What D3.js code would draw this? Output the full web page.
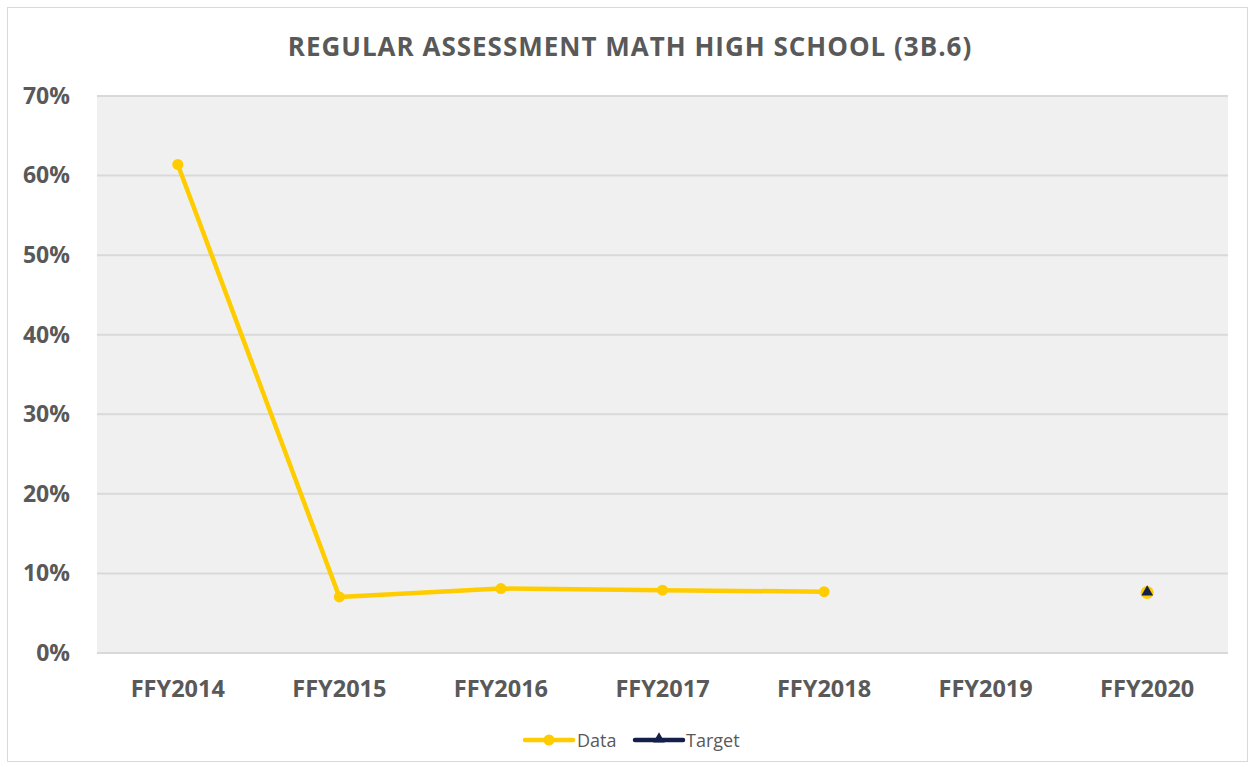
<!DOCTYPE html>
<html>
<head>
<meta charset="utf-8">
<script src="https://cdn.jsdelivr.net/npm/d3@7"></script>
<style>
  body { margin: 0; background: #fff; }
  text { font-family: "Open Sans", "Noto Sans", sans-serif; }
</style>
</head>
<body>
<script>
// chart data
const categories = ["FFY2014", "FFY2015", "FFY2016", "FFY2017", "FFY2018", "FFY2019", "FFY2020"];
const data_values = [0.614, 0.0705, 0.081, 0.079, 0.077, null, null];
const target_values = [null, null, null, null, null, null, 0.076];
const y_ticks = [0, 0.1, 0.2, 0.3, 0.4, 0.5, 0.6, 0.7];
const title = "REGULAR ASSESSMENT MATH HIGH SCHOOL (3B.6)";

const width = 1251, height = 767;
const plot_left = 97, plot_right = 1228, plot_top = 96, plot_bottom = 653;
const yellow = "#FFCC00", navy = "#14204A", grey = "#595959";

const svg = d3.select("body").append("svg")
    .attr("width", width)
    .attr("height", height);

// outer chart border
svg.append("rect")
    .attr("x", 7.5).attr("y", 7.5)
    .attr("width", 1240).attr("height", 754)
    .attr("fill", "#fff")
    .attr("stroke", "#d9d9d9");

// plot background
svg.append("rect")
    .attr("x", plot_left).attr("y", plot_top)
    .attr("width", plot_right - plot_left).attr("height", plot_bottom - plot_top)
    .attr("fill", "#f0f0f0");

const x = d3.scaleBand()
    .domain(categories)
    .range([plot_left, plot_right]);

const y = d3.scaleLinear()
    .domain([0, 0.7])
    .range([plot_bottom, plot_top]);

// gridlines
svg.append("g")
    .selectAll("line")
    .data(y_ticks)
    .enter()
    .append("line")
    .attr("x1", plot_left).attr("x2", plot_right)
    .attr("y1", d => y(d)).attr("y2", d => y(d))
    .attr("stroke", "#d9d9d9")
    .attr("stroke-width", 2);

// y axis labels
const y_axis = svg.append("g")
    .attr("transform", `translate(${plot_left - 24}, 0)`)
    .call(d3.axisLeft(y).tickValues(y_ticks).tickFormat(d3.format(".0%")).tickSize(0));
y_axis.select(".domain").remove();
y_axis.selectAll("text")
    .attr("fill", grey)
    .style("font-size", "23px")
    .style("font-weight", "bold")
    .style("font-family", "'Open Sans', sans-serif");

// x axis labels
const x_axis = svg.append("g")
    .attr("transform", `translate(0, ${plot_bottom})`)
    .call(d3.axisBottom(x).tickSize(0));
x_axis.select(".domain").remove();
x_axis.selectAll("text")
    .attr("y", 44)
    .attr("dy", null)
    .attr("fill", grey)
    .style("font-size", "23.5px")
    .style("font-weight", "bold")
    .style("font-family", "'Open Sans', sans-serif");

const cx = d => x(d) + x.bandwidth() / 2;

// data line
const data_pts = categories.map((c, i) => ({ c, v: data_values[i] })).filter(d => d.v !== null);
svg.append("path")
    .datum(data_pts)
    .attr("d", d3.line().x(d => cx(d.c)).y(d => y(d.v)))
    .attr("fill", "none")
    .attr("stroke", yellow)
    .attr("stroke-width", 4.5)
    .attr("stroke-linejoin", "round");

svg.append("g")
    .selectAll("circle")
    .data(data_pts)
    .enter()
    .append("circle")
    .attr("cx", d => cx(d.c))
    .attr("cy", d => y(d.v))
    .attr("r", 5.5)
    .attr("fill", yellow);

// target markers
const target_pts = categories.map((c, i) => ({ c, v: target_values[i] })).filter(d => d.v !== null);
const tri = d3.symbol().type(d3.symbolTriangle).size(60);
const tg = svg.append("g").selectAll("g")
    .data(target_pts)
    .enter()
    .append("g")
    .attr("transform", d => `translate(${cx(d.c)}, ${y(d.v)})`);
tg.append("circle").attr("r", 6.5).attr("fill", yellow);
tg.append("path").attr("d", tri).attr("fill", navy).attr("transform", "translate(0,-0.5)");

// title
svg.append("text")
    .attr("x", 630).attr("y", 56)
    .attr("text-anchor", "middle")
    .attr("fill", grey)
    .style("font-size", "26px")
    .style("font-weight", "bold")
    .style("letter-spacing", "1px")
    .text(title);

// legend
const legend = svg.append("g").attr("transform", "translate(0, 740)");
legend.append("line")
    .attr("x1", 525).attr("x2", 573).attr("y1", 0).attr("y2", 0)
    .attr("stroke", yellow).attr("stroke-width", 4.5).attr("stroke-linecap", "round");
legend.append("circle").attr("cx", 549).attr("cy", 0).attr("r", 5.5).attr("fill", yellow);
legend.append("text")
    .attr("x", 577).attr("y", 6.5)
    .attr("fill", grey).style("font-size", "18px")
    .text("Data");
legend.append("line")
    .attr("x1", 635).attr("x2", 683).attr("y1", 0).attr("y2", 0)
    .attr("stroke", navy).attr("stroke-width", 4.5).attr("stroke-linecap", "round");
legend.append("path").attr("d", tri).attr("fill", navy).attr("transform", "translate(659,-1)");
legend.append("text")
    .attr("x", 686).attr("y", 6.5)
    .attr("fill", grey).style("font-size", "18px")
    .text("Target");
</script>
</body>
</html>
